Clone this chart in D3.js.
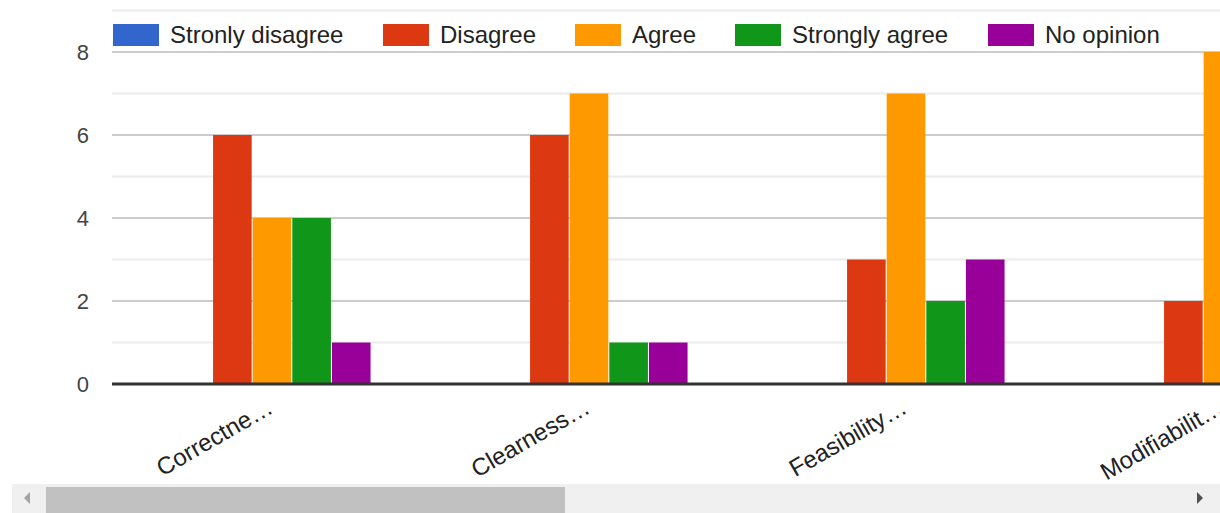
<!DOCTYPE html>
<html>
<head>
<meta charset="utf-8">
<script src="https://cdn.jsdelivr.net/npm/d3@7"></script>
<style>
  html, body { margin: 0; padding: 0; background: #fff; overflow: hidden; }
  svg { display: block; font-family: Arial, "Liberation Sans", sans-serif; }
</style>
</head>
<body>
<svg id="chart" width="1220" height="513"></svg>
<script>
// Survey responses per criterion
const categories = ["Correctne\u2026", "Clearness\u2026", "Feasibility\u2026", "Modifiabilit\u2026"];
const seriesNames = ["Stronly disagree", "Disagree", "Agree", "Strongly agree", "No opinion"];
const seriesColors = ["#3366cc", "#dc3912", "#ff9900", "#109618", "#990099"];
const stronglyDisagree = [0, 0, 0, 0];
const disagree = [6, 6, 3, 2];
const agree = [4, 7, 7, 8];
const stronglyAgree = [4, 1, 2, 3];
const noOpinion = [1, 1, 3, 2];
const yTicks = [0, 2, 4, 6, 8];
const yMinorTicks = [1, 3, 5, 7, 9];

const seriesValues = [stronglyDisagree, disagree, agree, stronglyAgree, noOpinion];

const W = 1220, H = 513;
const svg = d3.select("#chart");

const plotLeft = 112, baselineY = 384;

const y = d3.scaleLinear().domain([0, 9]).range([baselineY, 10.5]);

const x0 = d3.scaleBand()
  .domain(categories)
  .range([114, 114 + 317 * categories.length])
  .paddingInner(0.375)
  .paddingOuter(0.1875);

const x1 = d3.scaleBand()
  .domain(seriesNames)
  .range([0, x0.bandwidth()]);

// Gridlines
const grid = svg.append("g");
grid.selectAll("line.minor").data(yMinorTicks).join("line")
  .attr("x1", plotLeft).attr("x2", W)
  .attr("y1", d => y(d)).attr("y2", d => y(d))
  .attr("stroke", "#ebebeb").attr("stroke-width", 2);
grid.selectAll("line.major").data(yTicks.filter(d => d > 0)).join("line")
  .attr("x1", plotLeft).attr("x2", W)
  .attr("y1", d => y(d)).attr("y2", d => y(d))
  .attr("stroke", "#cccccc").attr("stroke-width", 2);

// Bars
const groups = svg.append("g").selectAll("g")
  .data(categories)
  .join("g")
  .attr("transform", d => `translate(${x0(d)},0)`);

groups.selectAll("rect")
  .data((d, i) => seriesNames.map((s, k) => ({ s, k, v: seriesValues[k][i] })))
  .join("rect")
  .attr("x", d => x1(d.s))
  .attr("width", x1.bandwidth() - 1)
  .attr("y", d => y(d.v))
  .attr("height", d => y(0) - y(d.v))
  .attr("fill", d => seriesColors[d.k]);

// Baseline
svg.append("line")
  .attr("x1", plotLeft).attr("x2", W)
  .attr("y1", y(0)).attr("y2", y(0))
  .attr("stroke", "#333").attr("stroke-width", 3);

// Y axis labels
const yAxis = d3.axisLeft(y).tickValues(yTicks).tickSize(0).tickPadding(0);
const yg = svg.append("g").attr("transform", "translate(89,0)").call(yAxis);
yg.select(".domain").remove();
yg.selectAll("text")
  .attr("font-size", 22)
  .attr("fill", "#444")
  .attr("font-family", "Arial, 'Liberation Sans', sans-serif")
  .attr("dy", "0.35em");

// Category labels, slanted
const xAxis = d3.axisBottom(x0).tickSize(0).tickPadding(0);
const xg = svg.append("g").attr("transform", `translate(0,${baselineY})`).call(xAxis);
xg.select(".domain").remove();
xg.selectAll(".tick text")
  .attr("font-size", 24)
  .attr("fill", "#222")
  .attr("font-family", "Arial, 'Liberation Sans', sans-serif")
  .attr("text-anchor", "end")
  .attr("dy", 0)
  .attr("y", 0)
  .attr("transform", "translate(2,28) rotate(-30)");

// Legend
const legend = svg.append("g");
legend.append("rect")
  .attr("x", plotLeft).attr("y", 12).attr("width", W - plotLeft).attr("height", 38)
  .attr("fill", "#fff");
const legendX = [113, 383, 575, 735, 988];
const items = legend.selectAll("g.item")
  .data(seriesNames)
  .join("g")
  .attr("transform", (d, i) => `translate(${legendX[i]},24)`);
items.append("rect")
  .attr("width", 46).attr("height", 22)
  .attr("fill", (d, i) => seriesColors[i]);
items.append("text")
  .attr("x", 57).attr("y", 19)
  .attr("font-size", 24)
  .attr("fill", "#222")
  .text(d => d);

// Horizontal scrollbar
const sb = svg.append("g");
sb.append("rect").attr("x", 12).attr("y", 484).attr("width", W - 12).attr("height", 29).attr("fill", "#f0f0f0");
sb.append("rect").attr("x", 46).attr("y", 487).attr("width", 519).attr("height", 26).attr("fill", "#c1c1c1");
sb.append("path").attr("d", "M24,498 L30,492 L30,504 Z").attr("fill", "#a3a3a3");
sb.append("path").attr("d", "M1203,498 L1197,492 L1197,504 Z").attr("fill", "#505050");
</script>
</body>
</html>
